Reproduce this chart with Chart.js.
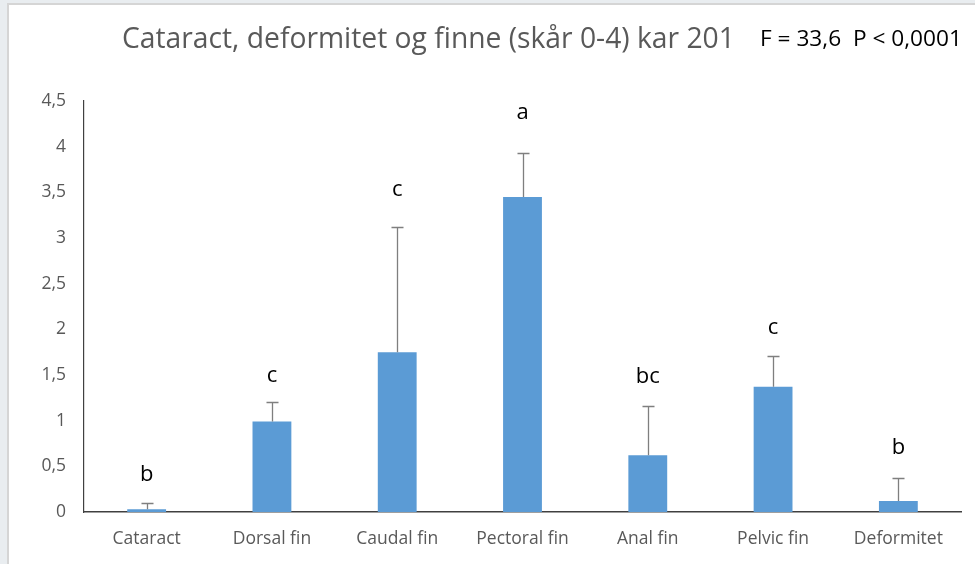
<!DOCTYPE html>
<html>
<head>
<meta charset="utf-8">
<script src="https://cdn.jsdelivr.net/npm/chart.js@4.4.1/dist/chart.umd.min.js"></script>
<style>
  html, body { margin: 0; padding: 0; width: 975px; height: 564px; overflow: hidden; background: #e9edf0; }
  #frame { position: absolute; left: 7px; top: 3px; width: 968px; height: 561px; background: #ffffff;
           border-left: 2px solid #d5d5d5; border-top: 2px solid #d5d5d5; box-sizing: border-box; }
  #wrap { position: absolute; left: 0; top: 0; width: 975px; height: 564px; }
</style>
</head>
<body>
<div id="frame"></div>
<div id="wrap"><canvas id="c" width="975" height="564"></canvas></div>
<script>
// ---- data ----
const categories = ["Cataract", "Dorsal fin", "Caudal fin", "Pectoral fin", "Anal fin", "Pelvic fin", "Deformitet"];
const means      = [0.03, 0.99, 1.75, 3.45, 0.62, 1.37, 0.12];
const errorsUp   = [0.07, 0.21, 1.37, 0.48, 0.54, 0.34, 0.25];
const groupLetters = ["b", "c", "c", "a", "bc", "c", "b"];
const letterLevels = [0.41, 1.49, 3.53, 4.37, 1.48, 2.02, 0.70];
const yTicks = [0, 0.5, 1, 1.5, 2, 2.5, 3, 3.5, 4, 4.5];
const titleText = "Cataract, deformitet og finne (skår 0-4) kar 201";
const statText = "F = 33,6  P < 0,0001";

const FONT = "'Open Sans', 'Noto Sans', sans-serif";

const overlay = {
  id: 'overlay',
  afterDatasetsDraw(chart) {
    const ctx = chart.ctx;
    const x = chart.scales.x, y = chart.scales.y;
    // error bars
    ctx.save();
    ctx.strokeStyle = '#7f7f7f';
    ctx.lineWidth = 1.3;
    means.forEach((m, i) => {
      const cx = Math.round(x.getPixelForValue(i)) + 0.5;
      const y0 = y.getPixelForValue(m);
      const y1 = Math.round(y.getPixelForValue(m + errorsUp[i])) + 0.5;
      ctx.beginPath();
      ctx.moveTo(cx, y0); ctx.lineTo(cx, y1);
      ctx.moveTo(cx - 6, y1); ctx.lineTo(cx + 6, y1);
      ctx.stroke();
    });
    // letters
    ctx.fillStyle = '#000000';
    ctx.font = '22px ' + FONT;
    ctx.textAlign = 'center';
    ctx.textBaseline = 'middle';
    groupLetters.forEach((t, i) => {
      ctx.fillText(t, x.getPixelForValue(i), y.getPixelForValue(letterLevels[i]));
    });
    // title
    ctx.textAlign = 'left';
    ctx.textBaseline = 'middle';
    let size = 24;
    ctx.font = size + 'px ' + FONT;
    let w = ctx.measureText(titleText).width;
    size = size * 613 / w;
    ctx.font = size + 'px ' + FONT;
    ctx.fillStyle = '#595959';
    ctx.fillText(titleText, 122, 40);
    let s2 = 17;
    ctx.font = s2 + 'px ' + FONT;
    w = ctx.measureText(statText).width;
    s2 = s2 * 202 / w;
    ctx.font = s2 + 'px ' + FONT;
    ctx.fillStyle = '#000000';
    ctx.fillText(statText, 760, 40);
    ctx.restore();
  }
};

new Chart(document.getElementById('c'), {
  type: 'bar',
  data: {
    labels: categories,
    datasets: [{
      data: means,
      backgroundColor: '#5b9bd5',
      borderWidth: 0,
      barPercentage: 0.31,
      categoryPercentage: 1.0
    }]
  },
  options: {
    responsive: false,
    animation: false,
    layout: { padding: { top: 101, right: 14, left: 0, bottom: 0 } },
    plugins: { legend: { display: false }, title: { display: false }, tooltip: { enabled: false } },
    scales: {
      x: {
        grid: { display: false, drawTicks: false },
        border: { display: true, color: '#404040', width: 1.5 },
        ticks: { color: '#595959', font: { family: FONT, size: 17.5 }, padding: 17, maxRotation: 0 },
        afterFit(scale) { scale.height = 52; }
      },
      y: {
        min: 0, max: 4.5,
        afterBuildTicks(scale) { scale.ticks = yTicks.map(v => ({ value: v })); },
        grid: { display: false, drawTicks: false },
        border: { display: true, color: '#404040', width: 1.2 },
        ticks: {
          color: '#595959', font: { family: FONT, size: 17.5 }, padding: 18,
          callback: v => String(v).replace('.', ',')
        },
        afterFit(scale) { scale.width = 84; }
      }
    }
  },
  plugins: [overlay]
});
</script>
</body>
</html>
